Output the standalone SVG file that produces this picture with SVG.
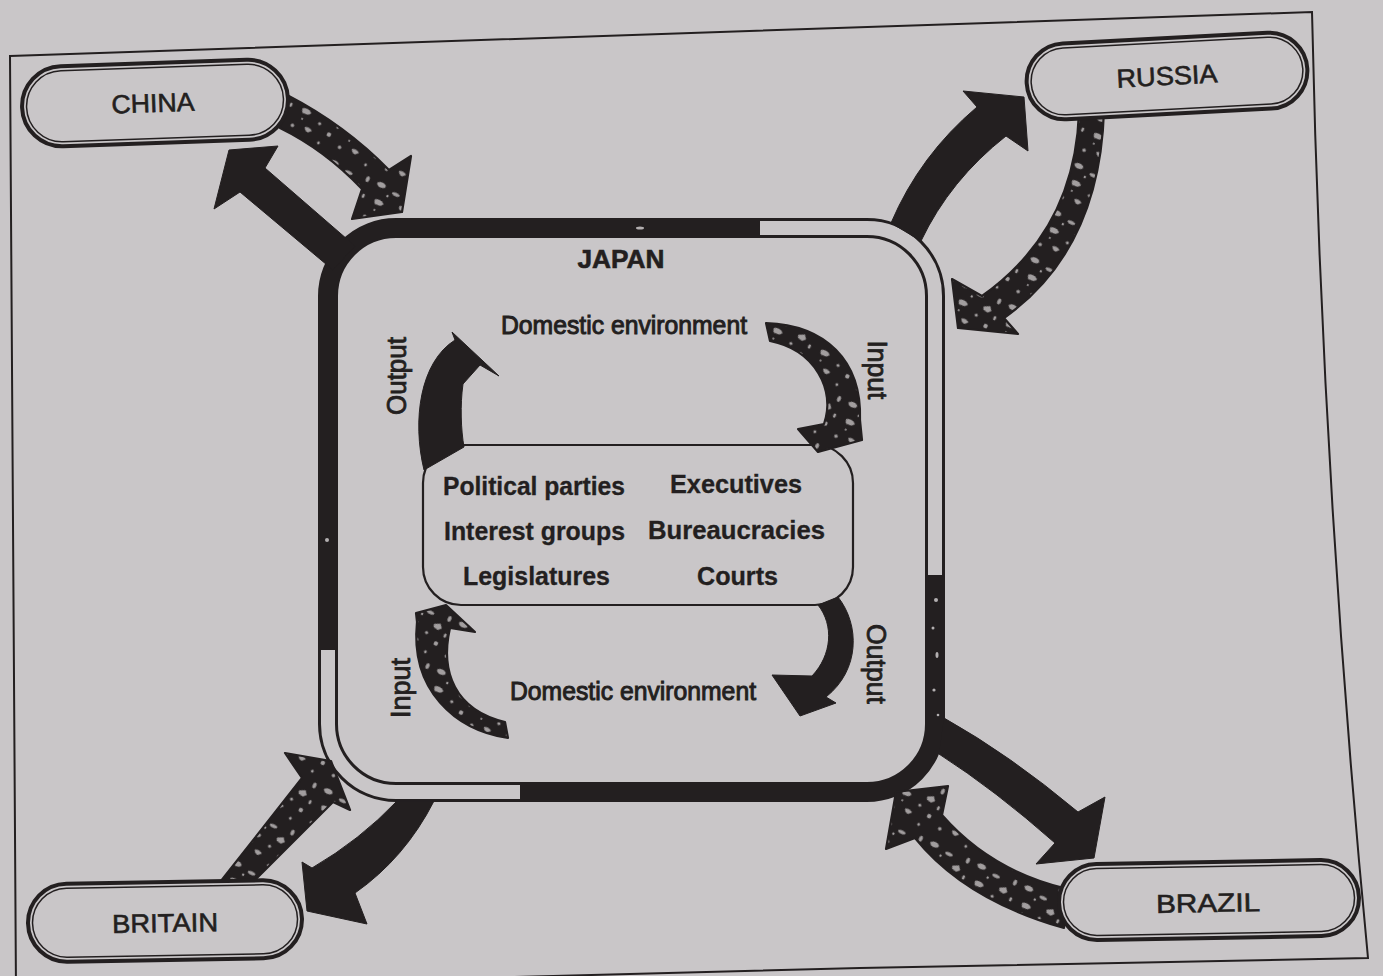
<svg xmlns="http://www.w3.org/2000/svg" width="1383" height="976" viewBox="0 0 1383 976">
<defs>
<style>
.solid{fill:#231f20;stroke:#231f20;stroke-width:1;stroke-linejoin:round}
.speck{fill:url(#speck);stroke:#231f20;stroke-width:2.2;stroke-linejoin:round}
.pill{fill:#c9c6c8;stroke:#231f20;stroke-width:4}
.pill-in{fill:none;stroke:#231f20;stroke-width:1.5}
.lbl{font-family:"Liberation Sans",Arial,sans-serif;fill:#231f20;stroke:#231f20;stroke-width:0.6}
.big{font-size:26px;text-anchor:middle}
.env{stroke-width:1}
.rot{font-size:27px;stroke-width:0.8}
.inner{font-size:25px;font-weight:bold;stroke-width:0.3}
</style>
<pattern id="speck" width="52" height="52" patternUnits="userSpaceOnUse" patternTransform="rotate(25)">
<rect width="52" height="52" fill="#231f20"/>
<g fill="#a29e9f">
<path d="M3 6 q4 -4 9 -1 q2 3 -3 4 q-4 1 -6 -3z"/>
<ellipse cx="25" cy="9" rx="4" ry="1.8"/>
<path d="M33 18 l6 -3 l3 4 l-3 3 l-5 -1z"/>
<path d="M8 22 q6 -3 10 1 q-2 4 -6 3 q-3 2 -4 -4z"/>
<circle cx="43" cy="35" r="2.2"/>
<path d="M18 38 q5 -2 8 1 l-3 3 q-4 0 -5 -4z"/>
<circle cx="6" cy="42" r="1.8"/>
<ellipse cx="45" cy="7" rx="1.8" ry="3"/>
<circle cx="30" cy="29" r="1.6"/>
<circle cx="18" cy="14" r="1.2"/>
<circle cx="37" cy="47" r="1.4"/>
<ellipse cx="48" cy="24" rx="1.4" ry="2.2"/>
<circle cx="12" cy="32" r="1"/>
</g>
</pattern>
</defs>

<rect width="1383" height="976" fill="#c9c6c8"/>
<path d="M10,56 L1312,12 Q1322,480 1368,958 L860,968 L16,990 Z" fill="none" stroke="#231f20" stroke-width="2"/>

<g id="japan">
<rect x="328" y="228" width="607" height="564" rx="68" fill="#c9c6c8" stroke="#231f20" stroke-width="20"/>
<path d="M760,228 L867,228 A68,68 0 0 1 935,296 L935,575" fill="none" stroke="#c9c6c8" stroke-width="14"/>
<path d="M520,792 L396,792 A68,68 0 0 1 328,724 L328,650" fill="none" stroke="#c9c6c8" stroke-width="14"/>
<g fill="#b3afb0">
<circle cx="936" cy="600" r="2"/><circle cx="933" cy="628" r="1.5"/><ellipse cx="937" cy="655" rx="1.5" ry="3"/>
<circle cx="934" cy="690" r="1.6"/><circle cx="938" cy="715" r="1.3"/><ellipse cx="640" cy="228" rx="4" ry="1.5"/>
<circle cx="327" cy="540" r="2"/>
</g>
<text class="lbl" x="621" y="268" font-size="26" font-weight="bold" text-anchor="middle" textLength="87" lengthAdjust="spacingAndGlyphs">JAPAN</text>
<text class="lbl big env" x="624" y="334" textLength="246" lengthAdjust="spacingAndGlyphs">Domestic environment</text>
<text class="lbl big env" x="633" y="700" textLength="246" lengthAdjust="spacingAndGlyphs">Domestic environment</text>
<text class="lbl big rot" transform="translate(397,376) rotate(-90)" y="9" textLength="78" lengthAdjust="spacingAndGlyphs">Output</text>
<text class="lbl big rot" transform="translate(877,370) rotate(90)" y="9" textLength="59" lengthAdjust="spacingAndGlyphs">Input</text>
<text class="lbl big rot" transform="translate(401,688) rotate(-90)" y="9" textLength="60" lengthAdjust="spacingAndGlyphs">Input</text>
<text class="lbl big rot" transform="translate(876,664) rotate(90)" y="9" textLength="80" lengthAdjust="spacingAndGlyphs">Output</text>
</g>

<g id="political-system">
<rect x="423" y="445" width="430" height="160" rx="38" fill="#c9c6c8" stroke="#231f20" stroke-width="2.2"/>
<text class="lbl inner" x="443" y="495" textLength="182" lengthAdjust="spacingAndGlyphs">Political parties</text>
<text class="lbl inner" x="670" y="493" textLength="132" lengthAdjust="spacingAndGlyphs">Executives</text>
<text class="lbl inner" x="444" y="540" textLength="181" lengthAdjust="spacingAndGlyphs">Interest groups</text>
<text class="lbl inner" x="648" y="539" textLength="177" lengthAdjust="spacingAndGlyphs">Bureaucracies</text>
<text class="lbl inner" x="463" y="585" textLength="147" lengthAdjust="spacingAndGlyphs">Legislatures</text>
<text class="lbl inner" x="697" y="585" textLength="81" lengthAdjust="spacingAndGlyphs">Courts</text>
</g>

<g id="connectors">
<path class="solid" d="M229,150 L278,146 L265,168 L355,246 L333,270 L240,192 L214,209 Z"/>
<path class="speck" d="M287,95 Q345,125 389,170 L411,156 L402,212 L352,219 L362,189 Q325,150 280,128 Z"/>
<path class="solid" d="M891,223 Q920,155 977,107 L963,91 L1024,97 L1028,151 L1006,136 Q950,180 921,241 Z"/>
<path class="speck" d="M1079,112 L1104,110 Q1100,250 1004,318 L1018,334 L958,328 L952,279 L982,296 Q1075,230 1079,112 Z"/>
<path class="solid" d="M944,718 Q1010,755 1078,812 L1105,797 L1094,858 L1036,864 L1055,843 Q995,790 939,754 Z"/>
<path class="speck" d="M1064,888 Q990,870 942,815 L948,786 L896,792 L886,849 L915,838 Q965,900 1064,928 Z"/>
<path class="speck" d="M217,886 L302,778 L285,753 L331,761 L350,810 L333,802 L249,886 Z"/>
<path class="solid" d="M397,801 Q360,840 312,868 L302,862 L307,911 L367,924 L355,893 Q405,858 434,801 Z"/>
<path class="solid" d="M424,470 C412,420 420,362 455,340 L452,332 L499,376 L480,365 L463,384 C460,405 461,430 464,447 Z"/>
<path class="speck" d="M766,323 C825,325 862,360 860,420 L862,440 L818,452 L798,429 L824,424 C836,390 815,350 770,341 Z"/>
<path class="speck" d="M508,738 C455,730 410,690 417,622 L416,613 L446,605 L475,632 L450,628 C440,672 455,710 505,722 Z"/>
<path class="solid" d="M838,597 C860,625 860,670 826,697 L836,703 L800,716 L772,675 L812,676 C832,655 834,625 818,605 Z"/>
</g>

<g id="china" transform="rotate(-2 155 103)">
<rect class="pill" x="22" y="63" width="266" height="80" rx="40"/>
<rect class="pill-in" x="26.5" y="67.5" width="257" height="71" rx="35.5"/>
<text class="lbl big" x="153" y="112" textLength="83" lengthAdjust="spacingAndGlyphs">CHINA</text>
</g>
<g id="russia" transform="rotate(-3 1167 76)">
<rect class="pill" x="1026.5" y="38" width="281" height="76" rx="38"/>
<rect class="pill-in" x="1031" y="42.5" width="272" height="67" rx="33.5"/>
<text class="lbl big" x="1167" y="85" textLength="101" lengthAdjust="spacingAndGlyphs">RUSSIA</text>
</g>
<g id="britain" transform="rotate(-1 165 921)">
<rect class="pill" x="28" y="882" width="274" height="78" rx="39"/>
<rect class="pill-in" x="32.5" y="886.5" width="265" height="69" rx="34.5"/>
<text class="lbl big" x="165" y="932" textLength="106" lengthAdjust="spacingAndGlyphs">BRITAIN</text>
</g>
<g id="brazil" transform="rotate(-1 1209 900)">
<rect class="pill" x="1059" y="862" width="300" height="76" rx="38"/>
<rect class="pill-in" x="1063.5" y="866.5" width="291" height="67" rx="33.5"/>
<text class="lbl big" x="1208" y="912" textLength="104" lengthAdjust="spacingAndGlyphs">BRAZIL</text>
</g>
</svg>
